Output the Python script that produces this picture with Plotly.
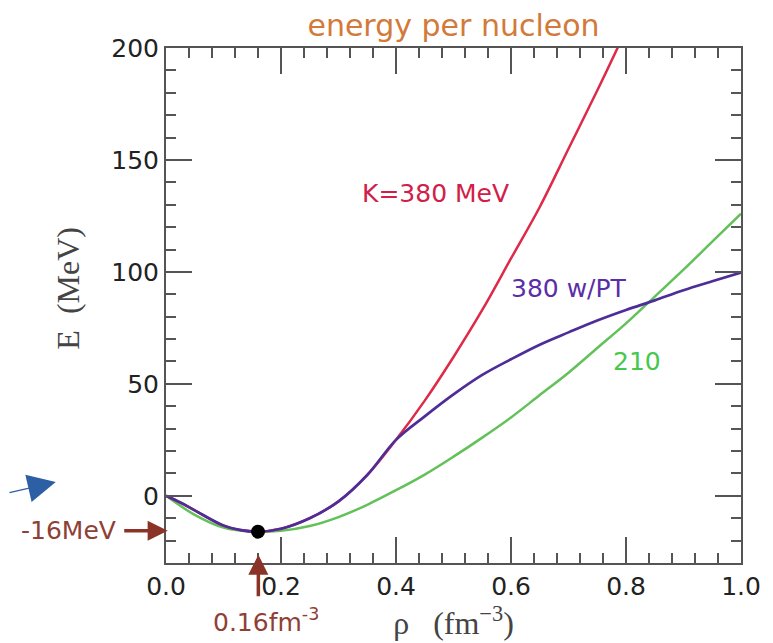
import plotly.graph_objects as go

# ---- data ----
rho_210 = [0.00, 0.05, 0.10, 0.15, 0.20, 0.25, 0.30, 0.35, 0.40, 0.45, 0.50,
           0.55, 0.60, 0.65, 0.70, 0.75, 0.80, 0.85, 0.90, 0.95, 1.00]
e_210 = [0.0, -8.5, -14.2, -16.0, -15.6, -13.5, -9.5, -4.0, 2.5, 9.5, 17.5,
         26.0, 35.0, 45.0, 55.0, 66.0, 77.0, 89.0, 101.0, 113.5, 126.0]

rho_380 = [0.00, 0.025, 0.05, 0.10, 0.13, 0.16, 0.20, 0.25, 0.30, 0.35, 0.40,
           0.45, 0.50, 0.55, 0.60, 0.65, 0.70, 0.75, 0.80]
e_380 = [0.0, -3.0, -6.5, -13.3, -15.3, -16.0, -14.7, -10.0, -2.5, 9.3, 25.0,
         42.5, 62.0, 83.0, 106.0, 129.0, 155.0, 181.0, 208.0]

rho_pt = [0.00, 0.025, 0.05, 0.10, 0.13, 0.16, 0.20, 0.25, 0.30, 0.35, 0.40,
          0.45, 0.50, 0.55, 0.60, 0.65, 0.70, 0.75, 0.80, 0.85, 0.90, 0.95, 1.00]
e_pt = [0.0, -3.0, -6.5, -13.3, -15.3, -16.0, -14.7, -10.0, -2.5, 9.3, 25.0,
        35.5, 45.3, 54.0, 61.0, 67.5, 73.0, 78.3, 83.0, 87.3, 91.8, 95.8, 99.7]

sat_rho = [0.16]
sat_e = [-16.0]

x_ticks = [0.0, 0.2, 0.4, 0.6, 0.8, 1.0]
y_ticks = [0, 50, 100, 150, 200]

RED = "#de2a48"
PURPLE = "#4f2d98"
GREEN = "#62c159"
BROWN = "#8c3328"
AXC = "#555555"
SANS = "DejaVu Sans, Verdana, sans-serif"
SERIF = "Liberation Serif, Times New Roman, serif"

fig = go.Figure()
fig.add_trace(go.Scatter(x=rho_210, y=e_210, mode="lines", name="210",
                         line=dict(color=GREEN, width=2.5, shape="spline")))
fig.add_trace(go.Scatter(x=rho_380, y=e_380, mode="lines", name="K=380 MeV",
                         line=dict(color=RED, width=2.5, shape="spline")))
fig.add_trace(go.Scatter(x=rho_pt, y=e_pt, mode="lines", name="380 w/PT",
                         line=dict(color=PURPLE, width=2.7, shape="spline")))
fig.add_trace(go.Scatter(x=sat_rho, y=sat_e, mode="markers", name="saturation",
                         marker=dict(color="black", size=14), cliponaxis=False))

tickfont = dict(family=SANS, size=25, color="#222222")

# the page body adds an 8px margin, so the figure is 8px smaller than the window
W, H = 765, 635
fig.update_layout(
    width=W, height=H,
    margin=dict(l=158, r=28, t=40, b=80),
    paper_bgcolor="white", plot_bgcolor="white",
    showlegend=False,
    title=dict(text="energy per nucleon", x=0.5, xref="paper", xanchor="center",
               y=1 - 17 / H, yref="container", yanchor="middle",
               font=dict(family=SANS, size=30, color="#d27a3a")),
    xaxis=dict(range=[0, 1], tickvals=x_ticks, tickformat=".1f",
               ticks="inside", ticklen=26, tickwidth=2, tickcolor=AXC,
               minor=dict(dtick=0.04, tick0=0, ticks="inside", ticklen=10,
                          tickwidth=2, tickcolor=AXC, showgrid=False),
               showline=True, linecolor=AXC, linewidth=2, mirror="ticks",
               showgrid=False, zeroline=False, tickfont=tickfont,
               title=dict(text="ρ   (fm<sup>−3</sup>)", standoff=6,
                          font=dict(family=SERIF, size=32, color="#444444"))),
    yaxis=dict(range=[-30, 200], tickvals=y_ticks,
               ticks="inside", ticklen=26, tickwidth=2, tickcolor=AXC,
               minor=dict(dtick=10, tick0=0, ticks="inside", ticklen=10,
                          tickwidth=2, tickcolor=AXC, showgrid=False),
               showline=True, linecolor=AXC, linewidth=2, mirror="ticks",
               showgrid=False, zeroline=False, tickfont=tickfont),
)

anns = [
    dict(x=0.468, y=135, xref="x", yref="y", text="K=380 MeV", showarrow=False,
         xanchor="center", yanchor="middle",
         font=dict(family=SANS, size=25, color="#d0204a")),
    dict(x=0.701, y=92.5, xref="x", yref="y", text="380 w/PT", showarrow=False,
         xanchor="center", yanchor="middle",
         font=dict(family=SANS, size=25, color="#5a2ea6")),
    dict(x=0.819, y=60, xref="x", yref="y", text="210", showarrow=False,
         xanchor="center", yanchor="middle",
         font=dict(family=SANS, size=25, color="#45c84e")),
    # y axis title
    dict(x=-0.171, y=0.534, xref="paper", yref="paper", text="E  (MeV)",
         textangle=-90, showarrow=False, xanchor="center", yanchor="middle",
         font=dict(family=SERIF, size=32, color="#444444")),
    # -16 MeV label and arrow
    dict(x=-0.169, y=-15.6, xref="paper", yref="y", text="-16MeV", showarrow=False,
         xanchor="center", yanchor="middle",
         font=dict(family=SANS, size=25, color="#8e4036")),
    dict(x=0.003, y=-15.6, xref="x", yref="y", text="", showarrow=True,
         ax=-45, ay=0, arrowhead=2, arrowsize=1.15, arrowwidth=3.5,
         arrowcolor=BROWN),
    # 0.16 fm^-3 label and arrow
    dict(x=0.1744, y=-0.1126, xref="paper", yref="paper",
         text="0.16fm<sup>-3</sup>", showarrow=False,
         xanchor="center", yanchor="middle",
         font=dict(family=SANS, size=25, color="#8e4036")),
    dict(x=0.1606, y=-26.3, xref="x", yref="y", text="", showarrow=True,
         ax=0, ay=43, arrowhead=2, arrowsize=1.15, arrowwidth=3.5,
         arrowcolor=BROWN),
    # blue pointer arrow in the left margin
    dict(x=(55 - 166) / 579, y=(563 - 482) / 515, xref="paper", yref="paper",
         text="", showarrow=True, ax=-55, ay=11, arrowhead=2, arrowsize=4.0,
         arrowwidth=1.4, arrowcolor="#2d5fa5"),
]
fig.update_layout(annotations=anns)

fig.write_html("out.html")
